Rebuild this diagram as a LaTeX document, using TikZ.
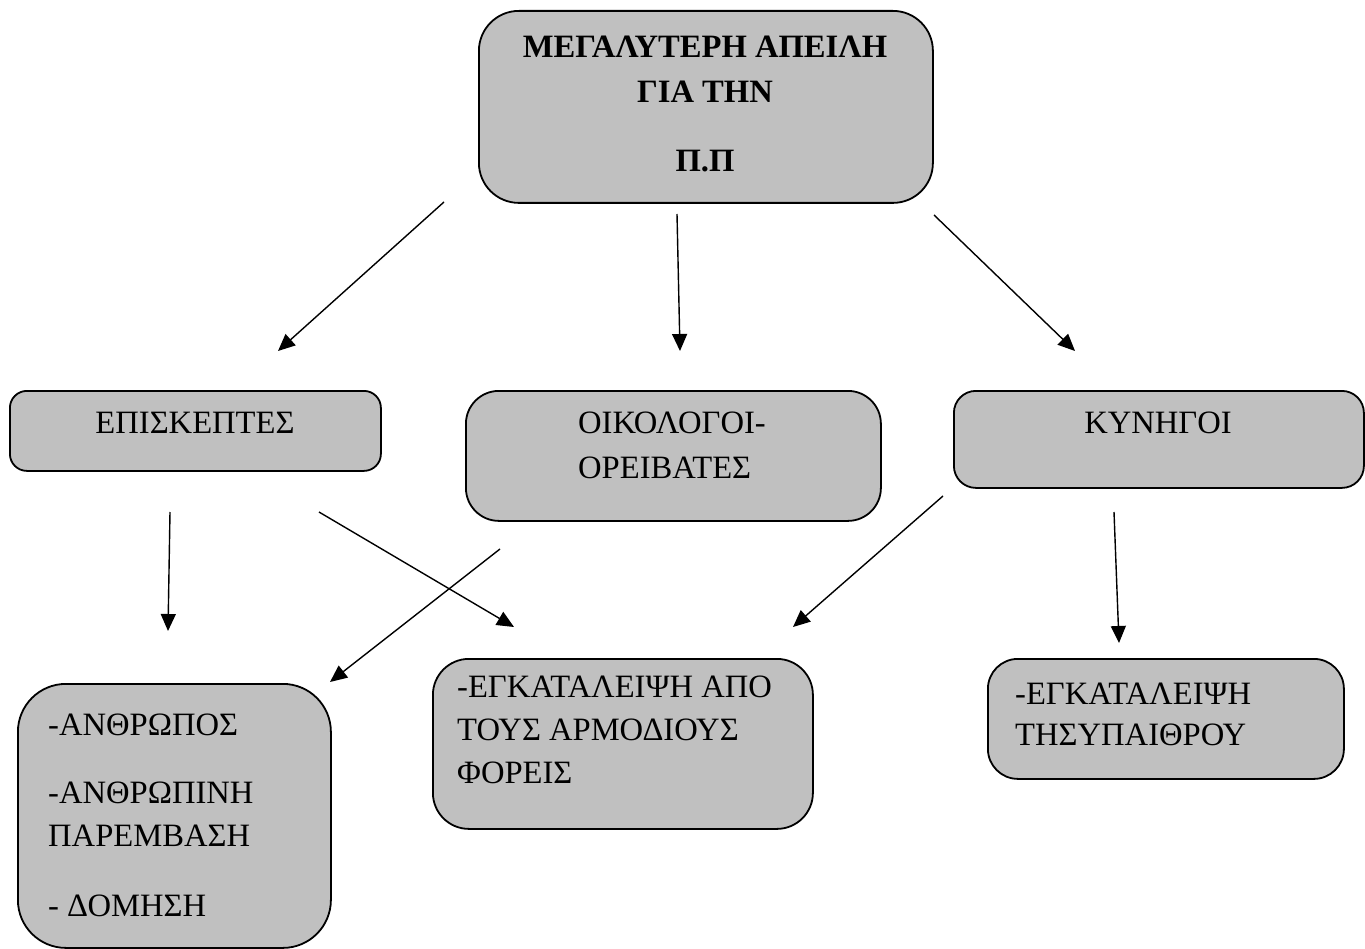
\documentclass[tikz,border=0pt]{standalone}
\usepackage{fontspec}
\setmainfont{Liberation Serif}
\usetikzlibrary{arrows.meta}
\definecolor{boxgray}{HTML}{C0C0C0}
\tikzset{
  box/.style={draw=black, line width=1.8pt, fill=boxgray, anchor=north west, inner sep=0pt},
  txt/.style={inner sep=0pt, font=\fontsize{32.6}{38}\selectfont},
  headtxt/.style={inner sep=0pt, anchor=base, font=\fontsize{32.6}{38}\selectfont\bfseries},
  arr/.style={line width=1.4pt, -{Triangle[length=17pt,width=15pt]}},
}
\begin{document}
\begin{tikzpicture}[x=1pt, y=-1pt]
\useasboundingbox (0,0) rectangle (1365,949);

% boxes
\node[box, rounded corners=40pt, minimum width=454pt, minimum height=192pt] (threat) at (478,10) {};
\node[box, rounded corners=17pt, minimum width=371pt, minimum height=80pt] (visitors) at (9,390) {};
\node[box, rounded corners=33pt, minimum width=415pt, minimum height=130pt] (ecologists) at (465,390) {};
\node[box, rounded corners=22pt, minimum width=410pt, minimum height=97pt] (hunters) at (953,390) {};
\node[box, rounded corners=48pt, minimum width=313pt, minimum height=264pt] (human) at (17,683) {};
\node[box, rounded corners=36pt, minimum width=380pt, minimum height=170pt] (authorities) at (432,658) {};
\node[box, rounded corners=30pt, minimum width=356pt, minimum height=120pt] (countryside) at (987,658) {};

% texts
\node[headtxt] (t1) at (705,58) {ΜΕΓΑΛΥΤΕΡΗ ΑΠΕΙΛΗ};
\node[headtxt] (t2) at (705,103) {ΓΙΑ ΤΗΝ};
\node[headtxt] (t3) at (705,172) {Π.Π};

\node[txt, anchor=base] (v1) at (195,433) {ΕΠΙΣΚΕΠΤΕΣ};
\node[txt, anchor=base west] (e1) at (578,433) {ΟΙΚΟΛΟΓΟΙ-};
\node[txt, anchor=base west] (e2) at (578,478) {ΟΡΕΙΒΑΤΕΣ};
\node[txt, anchor=base] (h1) at (1158,433) {ΚΥΝΗΓΟΙ};

\node[txt, anchor=base west] (m1) at (48,735) {-ΑΝΘΡΩΠΟΣ};
\node[txt, anchor=base west] (m2) at (48,803) {-ΑΝΘΡΩΠΙΝΗ};
\node[txt, anchor=base west] (m3) at (48,846) {ΠΑΡΕΜΒΑΣΗ};
\node[txt, anchor=base west] (m4) at (48,916) {- ΔΟΜΗΣΗ};

\node[txt, anchor=base west] (f1) at (457,697) {-ΕΓΚΑΤΑΛΕΙΨΗ ΑΠΟ};
\node[txt, anchor=base west] (f2) at (457,740) {ΤΟΥΣ ΑΡΜΟΔΙΟΥΣ};
\node[txt, anchor=base west] (f3) at (457,783) {ΦΟΡΕΙΣ};

\node[txt, anchor=base west] (c1) at (1015,704) {-ΕΓΚΑΤΑΛΕΙΨΗ};
\node[txt, anchor=base west] (c2) at (1015,745) {ΤΗΣΥΠΑΙΘΡΟΥ};

% arrow end points
\coordinate (a1s) at (444,202); \coordinate (a1e) at (278,351);
\coordinate (a2s) at (677,214); \coordinate (a2e) at (680,351);
\coordinate (a3s) at (934,215); \coordinate (a3e) at (1075,351);
\coordinate (a4s) at (170,512); \coordinate (a4e) at (168,631);
\coordinate (a5s) at (319,512); \coordinate (a5e) at (514,627);
\coordinate (a6s) at (500,549); \coordinate (a6e) at (330,682);
\coordinate (a7s) at (943,496); \coordinate (a7e) at (793,627);
\coordinate (a8s) at (1114,512); \coordinate (a8e) at (1119,643);

% arrows
\draw[arr] (a1s) -- (a1e);
\draw[arr] (a2s) -- (a2e);
\draw[arr] (a3s) -- (a3e);
\draw[arr] (a4s) -- (a4e);
\draw[arr] (a5s) -- (a5e);
\draw[arr] (a6s) -- (a6e);
\draw[arr] (a7s) -- (a7e);
\draw[arr] (a8s) -- (a8e);
\end{tikzpicture}
\end{document}
